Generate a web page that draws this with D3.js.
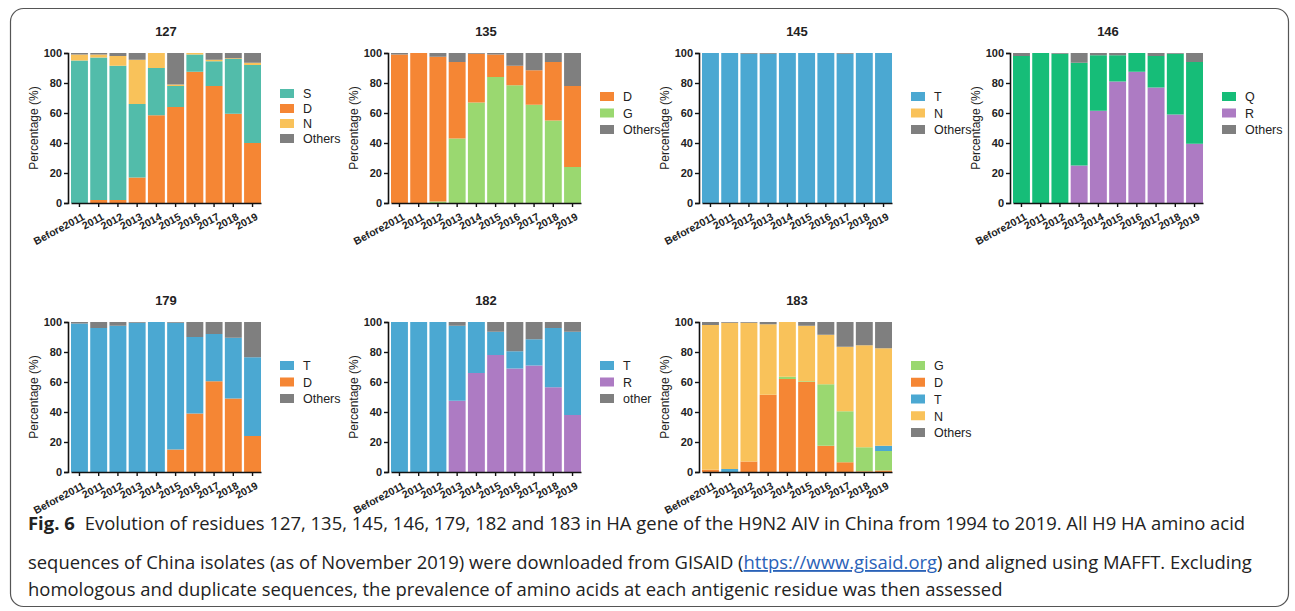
<!DOCTYPE html>
<html>
<head>
<meta charset="utf-8">
<script src="https://cdn.jsdelivr.net/npm/d3@7"></script>
<style>
  body { margin: 0; background: #fff; }
  svg text { font-family: "Liberation Sans", Arial, sans-serif; }
  svg .caption text { font-family: "Open Sans", "Noto Sans", sans-serif; }
</style>
</head>
<body>
<svg id="fig" width="1295" height="611"></svg>
<script>
// categories
const years = ["Before2011", "2011", "2012", "2013", "2014", "2015", "2016", "2017", "2018", "2019"];
const yTicks = [0, 20, 40, 60, 80, 100];

// residue 127
const r127_D = [0, 2, 2, 17, 58.5, 64, 87.5, 78, 59.5, 40];
const r127_S = [95, 95, 89.5, 49, 31.5, 14, 11.5, 16.5, 36.5, 52];
const r127_N = [4, 2, 6.5, 29.5, 10, 1, 1, 1, 0.5, 1.5];
const r127_O = [1, 1, 2, 4.5, 0, 21, 0, 4.5, 3.5, 6.5];

// residue 135
const r135_G = [0, 0, 1, 43, 67, 84, 78.5, 65.5, 55, 24];
const r135_D = [99, 100, 96.5, 51, 32.5, 15, 13, 23, 39, 54];
const r135_O = [1, 0, 2.5, 6, 0.5, 1, 8.5, 11.5, 6, 22];

// residue 145
const r145_T = [100, 100, 99.5, 99.5, 100, 100, 100, 99.5, 100, 100];
const r145_N = [0, 0, 0, 0, 0, 0, 0, 0, 0, 0];
const r145_O = [0, 0, 0.5, 0.5, 0, 0, 0, 0.5, 0, 0];

// residue 146
const r146_R = [0, 0, 0, 25, 61.5, 81, 87.5, 77, 59, 39.5];
const r146_Q = [98, 100, 99.5, 68.5, 37, 17.5, 12.5, 21, 40.5, 54.5];
const r146_O = [2, 0, 0.5, 6.5, 1.5, 1.5, 0, 2, 0.5, 6];

// residue 179
const r179_D = [0, 0, 0, 0, 0, 15, 39, 60.5, 49, 24];
const r179_T = [99, 96, 97.5, 99.5, 100, 84.5, 51, 31.5, 40.5, 52.5];
const r179_O = [1, 4, 2.5, 0.5, 0, 0.5, 10, 8, 10.5, 23.5];

// residue 182
const r182_R = [0, 0, 0, 47.5, 66, 78, 69, 71, 56.5, 38];
const r182_T = [100, 100, 100, 50, 34, 15.5, 11.5, 17.5, 39.5, 55.5];
const r182_O = [0, 0, 0, 2.5, 0, 6.5, 19.5, 11.5, 4, 6.5];

// residue 183
const r183_D = [1.5, 0, 7, 51.5, 62, 60, 17.5, 6.5, 0.5, 1];
const r183_G = [0, 0, 0, 0, 1.5, 0.5, 41, 34, 16, 13];
const r183_T = [0, 2, 0, 0, 0, 0, 0, 0, 0, 3.5];
const r183_N = [96.5, 97.5, 92.5, 47, 36.5, 37, 33, 43, 68, 65];
const r183_O = [2, 0.5, 0.5, 1.5, 0, 2.5, 8.5, 16.5, 15.5, 17.5];

const colors = {
  S: "#52bcaa", D: "#f58634", N: "#f9c25a", G: "#9ad870",
  T: "#4ba8d2", Q: "#16bd78", R: "#ad7bc3", O: "#7f7f7f"
};

// stack = bottom to top, legend = listed order
const panels = [
  {title: "127", x0: 68, top: 53, stack: [["D", r127_D], ["S", r127_S], ["N", r127_N], ["O", r127_O]],
   legend: [["S", "S"], ["D", "D"], ["N", "N"], ["O", "Others"]], legTop: 94, legStep: 15},
  {title: "135", x0: 388, top: 53, stack: [["G", r135_G], ["D", r135_D], ["O", r135_O]],
   legend: [["D", "D"], ["G", "G"], ["O", "Others"]], legTop: 97, legStep: 16.5},
  {title: "145", x0: 699, top: 53, stack: [["T", r145_T], ["N", r145_N], ["O", r145_O]],
   legend: [["T", "T"], ["N", "N"], ["O", "Others"]], legTop: 97, legStep: 16.5},
  {title: "146", x0: 1010, top: 53, stack: [["R", r146_R], ["Q", r146_Q], ["O", r146_O]],
   legend: [["Q", "Q"], ["R", "R"], ["O", "Others"]], legTop: 97, legStep: 16.5},
  {title: "179", x0: 68, top: 322, stack: [["D", r179_D], ["T", r179_T], ["O", r179_O]],
   legend: [["T", "T"], ["D", "D"], ["O", "Others"]], legTop: 366, legStep: 16.5},
  {title: "182", x0: 388, top: 322, stack: [["R", r182_R], ["T", r182_T], ["O", r182_O]],
   legend: [["T", "T"], ["R", "R"], ["O", "other"]], legTop: 366, legStep: 16.5},
  {title: "183", x0: 699, top: 322, stack: [["D", r183_D], ["G", r183_G], ["T", r183_T], ["N", r183_N], ["O", r183_O]],
   legend: [["G", "G"], ["D", "D"], ["T", "T"], ["N", "N"], ["O", "Others"]], legTop: 366, legStep: 16.75}
];

const plotW = 194, plotH = 150;

const svg = d3.select("#fig");

// frame
svg.append("rect")
  .attr("x", 10.5).attr("y", 8.5)
  .attr("width", 1278).attr("height", 598)
  .attr("rx", 13)
  .attr("fill", "none")
  .attr("stroke", "#555")
  .attr("stroke-width", 1.2);

panels.forEach(function(p) {
  const g = svg.append("g").attr("transform", "translate(" + p.x0 + "," + p.top + ")");

  const x = d3.scaleBand().domain(years).range([3, plotW - 1]).paddingInner(0.12).paddingOuter(0);
  const y = d3.scaleLinear().domain([0, 100]).range([plotH, 0]);

  // build stacked rows
  const rows = years.map(function(yr, i) {
    const r = {year: yr};
    p.stack.forEach(function(s) { r[s[0]] = s[1][i]; });
    return r;
  });
  const series = d3.stack().keys(p.stack.map(function(s) { return s[0]; }))(rows);

  g.selectAll(".layer")
    .data(series)
    .join("g")
      .attr("class", "layer")
      .attr("fill", function(d) { return colors[d.key]; })
    .selectAll("rect")
    .data(function(d) { return d; })
    .join("rect")
      .attr("x", function(d) { return x(d.data.year); })
      .attr("width", x.bandwidth())
      .attr("y", function(d) { return y(d[1]); })
      .attr("height", function(d) { return Math.max(0, y(d[0]) - y(d[1])); });

  // y axis
  const yAxis = g.append("g")
    .call(d3.axisLeft(y).tickValues(yTicks).tickSize(4).tickPadding(2));
  yAxis.select(".domain").attr("stroke", "#111").attr("stroke-width", 1.6);
  yAxis.selectAll(".tick line").attr("stroke", "#111").attr("stroke-width", 1.4);
  yAxis.selectAll("text")
    .attr("font-size", 11).attr("font-weight", "bold").attr("fill", "#222");

  // x axis
  const xAxis = g.append("g")
    .attr("transform", "translate(0," + plotH + ")")
    .call(d3.axisBottom(x).tickSize(4).tickSizeOuter(0));
  xAxis.select(".domain").attr("stroke", "#111").attr("stroke-width", 1.6);
  xAxis.selectAll(".tick line").attr("stroke", "#111").attr("stroke-width", 1.4);
  xAxis.selectAll("text")
    .attr("font-size", 10.5).attr("font-weight", "bold").attr("fill", "#222")
    .attr("text-anchor", "end")
    .attr("dy", 0)
    .attr("y", 0)
    .attr("transform", "translate(6,16) rotate(-28)");

  // y title
  g.append("text")
    .attr("transform", "translate(-30," + (plotH / 2) + ") rotate(-90)")
    .attr("text-anchor", "middle")
    .attr("font-size", 12)
    .attr("fill", "#222")
    .text("Percentage (%)");

  // panel title
  g.append("text")
    .attr("x", (x.range()[0] + x.range()[1]) / 2)
    .attr("y", -17)
    .attr("text-anchor", "middle")
    .attr("font-size", 13)
    .attr("font-weight", "bold")
    .attr("fill", "#222")
    .text(p.title);

  // legend
  const leg = svg.append("g")
    .attr("transform", "translate(" + (p.x0 + plotW + 18) + "," + p.legTop + ")");
  const items = leg.selectAll("g")
    .data(p.legend)
    .join("g")
      .attr("transform", function(d, i) { return "translate(0," + (i * p.legStep) + ")"; });
  items.append("rect")
    .attr("x", 0).attr("y", -5)
    .attr("width", 14).attr("height", 9)
    .attr("fill", function(d) { return colors[d[0]]; });
  items.append("text")
    .attr("x", 23).attr("y", 0)
    .attr("dy", "0.35em")
    .attr("font-size", 12.5)
    .attr("fill", "#222")
    .text(function(d) { return d[1]; });
});

// caption
const cap = svg.append("g").attr("class", "caption").attr("font-size", 16.5).attr("fill", "#222");

const l1 = cap.append("text").attr("x", 28).attr("y", 530);
l1.append("tspan").attr("font-weight", "bold").text("Fig. 6");
l1.append("tspan").attr("dx", 10).text("Evolution of residues 127, 135, 145, 146, 179, 182 and 183 in HA gene of the H9N2 AIV in China from 1994 to 2019. All H9 HA amino acid");

const l2 = cap.append("text").attr("x", 28).attr("y", 569);
l2.append("tspan").text("sequences of China isolates (as of November 2019) were downloaded from GISAID (");
l2.append("tspan").attr("fill", "#2a62b8").attr("text-decoration", "underline").text("https://www.gisaid.org");
l2.append("tspan").text(") and aligned using MAFFT. Excluding");

cap.append("text").attr("x", 28).attr("y", 596)
  .text("homologous and duplicate sequences, the prevalence of amino acids at each antigenic residue was then assessed");

// fit caption width to the reference line length
const w1 = l1.node().getComputedTextLength();
cap.attr("font-size", 16.5 * 1208 / w1);
</script>
</body>
</html>
